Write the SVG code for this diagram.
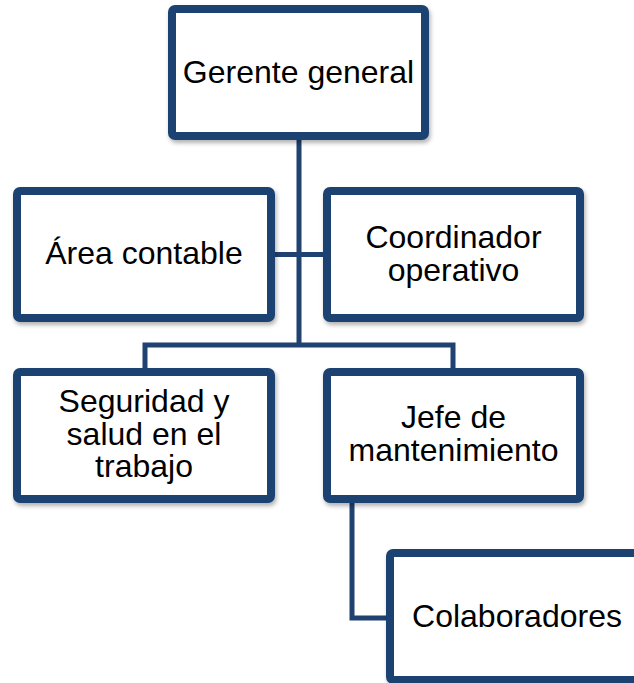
<svg xmlns="http://www.w3.org/2000/svg" width="634" height="683" viewBox="0 0 634 683">
<defs>
<filter id="sh" x="-10%" y="-10%" width="120%" height="130%">
<feDropShadow dx="1.5" dy="3" stdDeviation="2" flood-color="#000" flood-opacity="0.3"/>
</filter>
</defs>
<style>
.box{fill:#fff;stroke:#1F4271;stroke-width:8;filter:url(#sh)}
.lbl{font-family:"Liberation Sans",Arial,sans-serif;font-size:32px;fill:#000;text-anchor:middle}
.con{fill:none;stroke:#1F4271;stroke-width:5}
</style>
<rect width="634" height="683" fill="#fff"/>
<g id="connectors">
<path class="con" d="M299,140 V345"/>
<path class="con" d="M275,254.5 H323"/>
<path class="con" d="M145,368 V345 H453 V368"/>
<path class="con" d="M352,503 V618 H386"/>
</g>
<g id="gerente">
<rect class="box" x="172" y="9" width="253" height="127" rx="3"/>
<text class="lbl" x="298.5" y="83">Gerente general</text>
</g>
<g id="area">
<rect class="box" x="17" y="191" width="254" height="127" rx="3"/>
<text class="lbl" x="144" y="264">Área contable</text>
</g>
<g id="coordinador">
<rect class="box" x="327" y="191" width="253" height="127" rx="3"/>
<text class="lbl"><tspan x="453.5" y="247.5">Coordinador</tspan><tspan x="453.5" y="280.5">operativo</tspan></text>
</g>
<g id="seguridad">
<rect class="box" x="17" y="372" width="254" height="127" rx="3"/>
<text class="lbl"><tspan x="144" y="412">Seguridad y</tspan><tspan x="144" y="444.5">salud en el</tspan><tspan x="144" y="477">trabajo</tspan></text>
</g>
<g id="jefe">
<rect class="box" x="327" y="372" width="253" height="127" rx="3"/>
<text class="lbl"><tspan x="453.5" y="427.5">Jefe de</tspan><tspan x="453.5" y="460.5">mantenimiento</tspan></text>
</g>
<g id="colaboradores">
<rect class="box" x="390" y="553" width="254" height="127" rx="3"/>
<text class="lbl" x="517" y="627">Colaboradores</text>
</g>
</svg>
